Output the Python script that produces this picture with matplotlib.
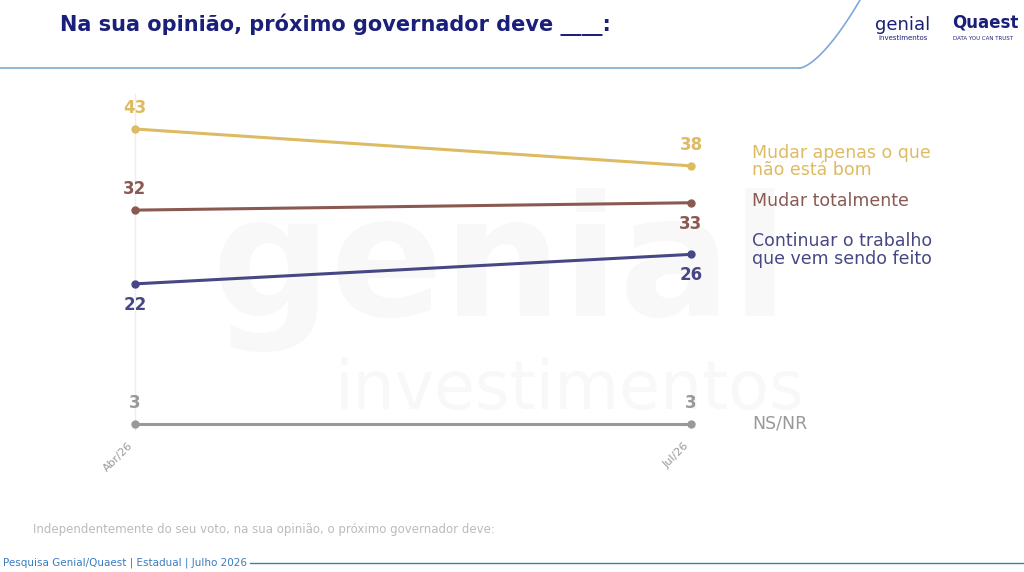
import matplotlib.pyplot as plt
import numpy as np

periods = ["Abr/26", "Jul/26"]
series = ["Mudar apenas o que\nnão está bom", "Mudar totalmente",
          "Continuar o trabalho\nque vem sendo feito", "NS/NR"]
values = [[43, 38], [32, 33], [22, 26], [3, 3]]
colors = ["#DDBB62", "#8A5A52", "#474785", "#999999"]
first_dir = [1, 1, -1, 1]    # label above (+1) or below (-1) the point
last_dir = [1, -1, -1, 1]
lab_y = [38.6, 33.2, 26.6, 3]

fig = plt.figure(figsize=(10.24, 5.72), dpi=100)

# watermark in a background axes
bg = fig.add_axes([0, 0, 1, 1], zorder=-5)
bg.set_axis_off()
bg.text(500/1024, 1-270/572, "genial", fontsize=120, color="#F8F8F8", ha="center", va="center",
        fontweight="bold")
bg.text(570/1024, 1-390/572, "investimentos", fontsize=48, color="#F8F8F8", ha="center",
        va="center")

# header
fig.text(60/1024, 1-25/572, "Na sua opinião, próximo governador deve ____:", fontsize=15,
         fontweight="bold", color="#1A1F7A", va="center")
fig.add_artist(plt.Line2D([0, 800/1024], [1-68/572]*2, color="#7FA9D6", lw=1.2))
t = np.linspace(0, 1, 50)
fig.add_artist(plt.Line2D(800/1024 + t*60/1024, 1-68/572 + (t**1.5)*68/572, color="#7FA9D6", lw=1.2))
fig.text(875/1024, 1-25/572, "genial", fontsize=13, color="#1A1F7A", va="center")
fig.text(878/1024, 1-38/572, "investimentos", fontsize=5, color="#1A1F7A", va="center")
fig.text(952/1024, 1-23/572, "Quaest", fontsize=12, fontweight="bold", color="#1A1F7A", va="center")
fig.text(953/1024, 1-38/572, "DATA YOU CAN TRUST", fontsize=4, color="#1A1F7A", va="center")

# footer
fig.text(33/1024, 1-530/572, "Independentemente do seu voto, na sua opinião, o próximo governador deve:",
         fontsize=8.5, color="#BBBBBB", va="center")
fig.text(3/1024, 1-563/572, "Pesquisa Genial/Quaest | Estadual | Julho 2026", fontsize=7.5,
         color="#3A7CC0", va="center")
fig.add_artist(plt.Line2D([250/1024, 1], [1-563/572]*2, color="#3A7CC0", lw=1))

ax = fig.add_axes([135/1024, 1-424/572, 556/1024, 295/572])
ax.set_facecolor("none")
x = np.arange(len(periods))
ax.axvline(0, color="#EEEEEE", lw=1, ymin=-0.02, ymax=1.12, clip_on=False, zorder=0)
for i, (v, c) in enumerate(zip(values, colors)):
    ax.plot(x, v, color=c, lw=2.2, marker="o", ms=5, clip_on=False)
    ax.annotate(str(v[0]), (x[0], v[0]), xytext=(0, 15 * first_dir[i]),
                textcoords="offset points", ha="center", va="center", fontsize=12,
                fontweight="bold", color=c)
    ax.annotate(str(v[1]), (x[1], v[1]), xytext=(0, 15 * last_dir[i]), textcoords="offset points",
                ha="center", va="center", fontsize=12, fontweight="bold", color=c)
for name, ly, c in zip(series, lab_y, colors):
    ax.text(1.11, ly, name, color=c, fontsize=12.5, va="center", linespacing=0.95, clip_on=False)
ax.set_xlim(0, 1)
ax.set_ylim(3, 43)
ax.set_xticks(x)
ax.set_xticklabels(periods, rotation=45, ha="right", fontsize=8, color="#999999")
ax.tick_params(axis="x", length=0, pad=12)
ax.set_yticks([])
for s in ax.spines.values():
    s.set_visible(False)

fig.savefig("out.png", dpi=100)
